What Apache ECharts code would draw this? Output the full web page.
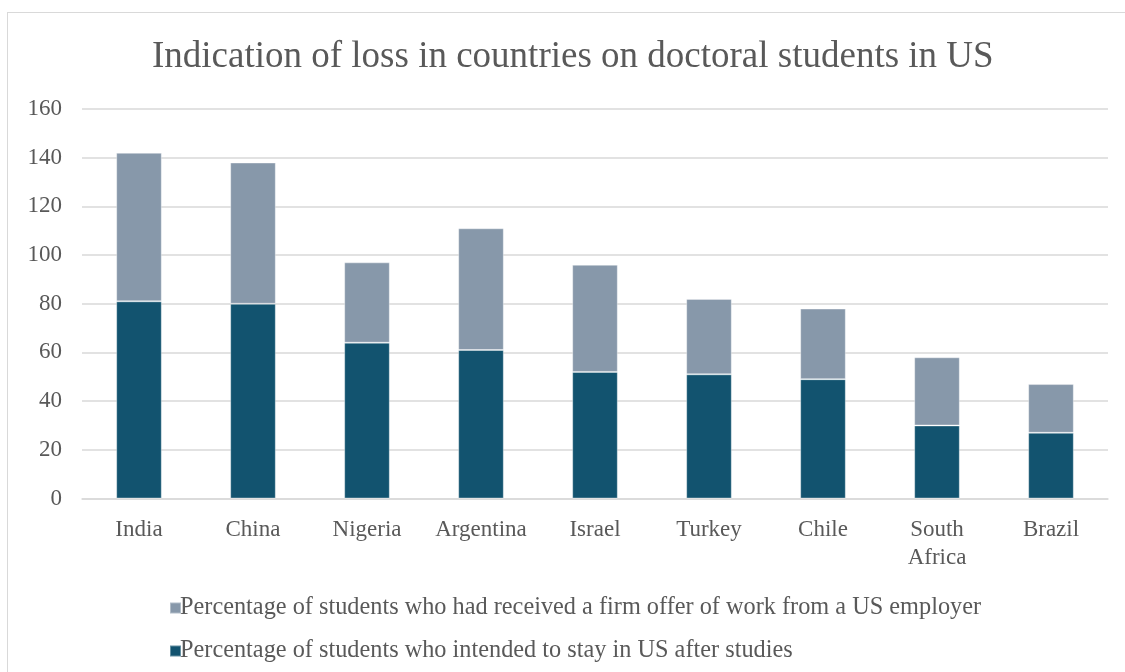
<!DOCTYPE html>
<html>
<head>
<meta charset="utf-8">
<script src="https://cdn.jsdelivr.net/npm/echarts@6/dist/echarts.min.js"></script>
<style>
  html, body { margin: 0; padding: 0; background: #fff; }
  #frame { position: absolute; left: 7px; top: 12px; width: 1120px; height: 670px; border: 1px solid #d9d9d9; box-sizing: border-box; }
  #chart { width: 1125px; height: 672px; }
</style>
</head>
<body>
<div id="frame"></div>
<div id="chart"></div>
<script>
// categories
const countries = ["India", "China", "Nigeria", "Argentina", "Israel", "Turkey", "Chile", "South\nAfrica", "Brazil"];
// percentage who intended to stay in US (bottom stack)
const intendStay = [81, 80, 64, 61, 52, 51, 49, 30, 27];
// percentage with a firm offer of work (top stack)
const firmOffer = [61, 58, 33, 50, 44, 31, 29, 28, 20];

const offerName = "Percentage of students who had received a firm offer of work from a US employer";
const stayName = "Percentage of students who intended to stay in US after studies";

const font = "'Liberation Serif', 'Times New Roman', serif";

//图表实例
const chart = echarts.init(document.getElementById("chart"));
chart.setOption({
  animation: false,
  title: {
    text: "Indication of loss in countries on doctoral students in US",
    left: 147,
    top: 34,
    textStyle: { fontFamily: font, fontSize: 37, fontWeight: "normal", color: "#595959" },
  },
  grid: { left: 82, right: 17, top: 109, bottom: 173.5 },
  legend: {
    orient: "vertical",
    left: 164,
    top: 591,
    itemGap: 19,
    itemWidth: 11,
    itemHeight: 11,
    icon: "rect",
    textStyle: { fontFamily: font, fontSize: 24.3, color: "#595959", padding: [0, 0, 0, -6] },
    data: [offerName, stayName],
  },
  xAxis: {
    type: "category",
    data: countries,
    axisLine: { lineStyle: { color: "#d9d9d9", width: 1.5 } },
    axisTick: { show: false },
    axisLabel: { interval: 0, fontFamily: font, fontSize: 23, color: "#595959", margin: 17, lineHeight: 28 },
  },
  yAxis: {
    type: "value",
    min: 0,
    max: 160,
    interval: 20,
    axisLine: { show: false },
    axisTick: { show: false },
    axisLabel: { fontFamily: font, fontSize: 23, color: "#595959", margin: 20 },
    splitLine: { lineStyle: { color: "#d9d9d9", width: 1.5 } },
  },
  series: [
    {
      name: stayName,
      type: "bar",
      stack: "total",
      barWidth: "40%",
      data: intendStay,
      itemStyle: { color: "#12536F", borderColor: "rgba(255,255,255,0.35)", borderWidth: 1 },
    },
    {
      name: offerName,
      type: "bar",
      stack: "total",
      barWidth: "40%",
      data: firmOffer,
      itemStyle: { color: "#8798AA", borderColor: "rgba(255,255,255,0.35)", borderWidth: 1 },
    },
  ],
});
</script>
</body>
</html>
